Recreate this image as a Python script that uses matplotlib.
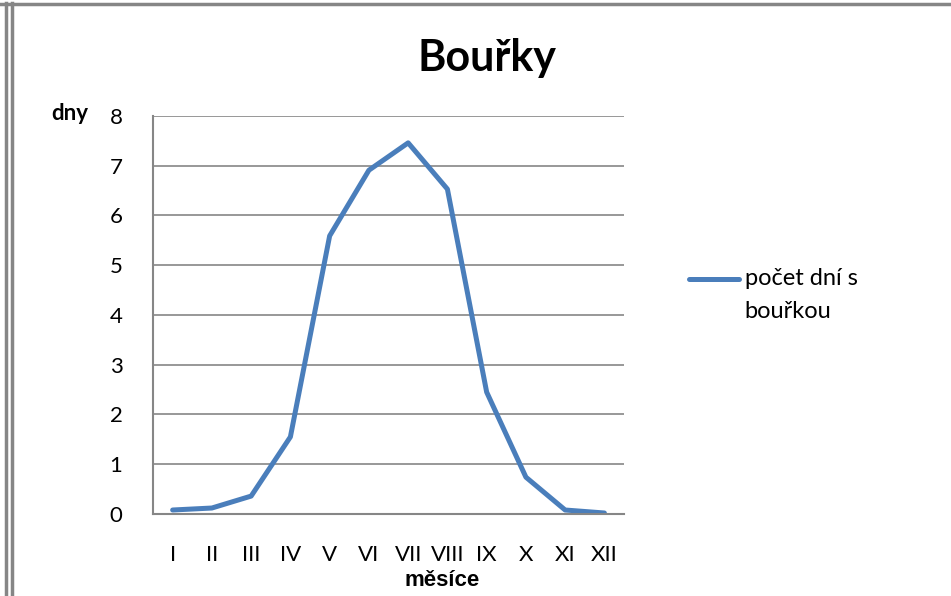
import matplotlib.pyplot as plt
from matplotlib.lines import Line2D

# data
mesice = ['I', 'II', 'III', 'IV', 'V', 'VI', 'VII', 'VIII', 'IX', 'X', 'XI', 'XII']
bourky = [0.08, 0.12, 0.36, 1.55, 5.59, 6.91, 7.46, 6.53, 2.45, 0.74, 0.08, 0.02]

plt.rcParams['font.family'] = ['Lato', 'DejaVu Sans']
grey = '#868686'
blue = '#4a7ebb'

fig = plt.figure(figsize=(9.51, 5.96), dpi=100)
ax = fig.add_axes([0.1609, 0.1376, 0.4953, 0.6678])

x = range(len(mesice))
ax.plot(x, bourky, color=blue, linewidth=3.6, solid_capstyle='round')

ax.set_xlim(-0.5, len(mesice) - 0.5)
ax.set_ylim(0, 8)
ax.set_yticks(range(0, 9))
ax.set_xticks(list(x))
ax.set_xticklabels(mesice)
ax.tick_params(axis='both', length=0, labelsize=16, colors='black')
ax.tick_params(axis='x', pad=22)
ax.tick_params(axis='y', pad=22)
ax.grid(axis='y', color=grey, linewidth=1.2)
ax.set_axisbelow(True)
for s in ['top', 'right']:
    ax.spines[s].set_visible(False)
for s in ['left', 'bottom']:
    ax.spines[s].set_color(grey)
    ax.spines[s].set_linewidth(1.5)

fig.text(0.512, 0.902, 'Bouřky', fontsize=31, fontweight='bold', ha='center', va='center')
fig.text(0.073, 0.809, 'dny', fontsize=16, fontweight='bold', ha='center', va='center')
fig.text(0.465, 0.026, 'měsíce', fontsize=16, fontweight='bold', ha='center', va='center',
         family=['Liberation Sans', 'DejaVu Sans'])

# legend drawn by hand so the line sits next to the first text line
fig.add_artist(Line2D([0.724, 0.777], [0.532, 0.532], color=blue, linewidth=3.6,
                      solid_capstyle='round'))
fig.text(0.783, 0.532, 'počet dní s', fontsize=17, ha='left', va='center')
fig.text(0.783, 0.478, 'bouřkou', fontsize=17, ha='left', va='center')

# frame lines of the original sheet
fig.add_artist(Line2D([0, 1], [0.9925, 0.9925], color=grey, linewidth=2.5))
fig.add_artist(Line2D([0.0065, 0.0065], [0, 0.995], color=grey, linewidth=2.5))
fig.add_artist(Line2D([0.0125, 0.0125], [0, 0.995], color=grey, linewidth=2.5))

fig.savefig('out.png', dpi=100)
